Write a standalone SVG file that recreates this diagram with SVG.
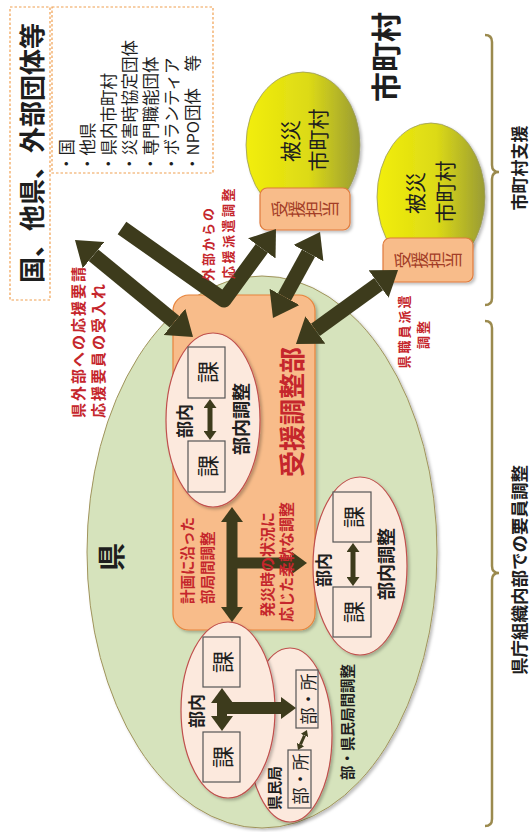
<svg xmlns="http://www.w3.org/2000/svg" width="531" height="832" viewBox="0 0 531 832">
<defs>
<linearGradient id="yg" x1="0" y1="0" x2="1" y2="0">
<stop offset="0" stop-color="#f2ee0a"/><stop offset="0.55" stop-color="#dcda16"/><stop offset="1" stop-color="#999b34"/>
</linearGradient>
<filter id="sh" x="-10%" y="-10%" width="130%" height="130%">
<feDropShadow dx="2" dy="2" stdDeviation="1.5" flood-color="#000" flood-opacity="0.25"/>
</filter>
<marker id="hL" markerUnits="userSpaceOnUse" markerWidth="24" markerHeight="34" viewBox="0 0 24 34" refX="0" refY="17" orient="auto-start-reverse"><path d="M0,0 L24,17 L0,34z" fill="#3d3b1c"/></marker>
<marker id="hM" markerUnits="userSpaceOnUse" markerWidth="15" markerHeight="22" viewBox="0 0 15 22" refX="0" refY="11" orient="auto-start-reverse"><path d="M0,0 L15,11 L0,22z" fill="#3d3b1c"/></marker>
<marker id="hS" markerUnits="userSpaceOnUse" markerWidth="9" markerHeight="13" viewBox="0 0 9 13" refX="0" refY="6.5" orient="auto-start-reverse"><path d="M0,0 L9,6.5 L0,13z" fill="#3d3b1c"/></marker>
<marker id="hT" markerUnits="userSpaceOnUse" markerWidth="6" markerHeight="8" viewBox="0 0 6 8" refX="0" refY="4" orient="auto-start-reverse"><path d="M0,0 L6,4 L0,8z" fill="#3d3b1c"/></marker>
</defs>
<style>
.t{font-family:"Noto Sans CJK JP","Noto Sans",sans-serif;text-anchor:middle;dominant-baseline:central;fill:#1e1e1e}
.s{text-anchor:start}
.b{font-weight:bold}
.v{writing-mode:vertical-rl}
.red{fill:#c5262c}
.jt{fill:#a33e27}
.dash{fill:none;stroke:#f0a050;stroke-width:1.2;stroke-dasharray:2.5 2}
.brace{fill:none;stroke:#9b8a4e;stroke-width:2.5}
.wel{fill:#fce9dd;stroke:#c0504d;stroke-width:1.2;filter:url(#sh)}
.box{fill:#fce9dd;stroke:#555;stroke-width:1.2}
.yel{fill:url(#yg);stroke:#9a9a60;stroke-width:0.8;filter:url(#sh)}
.jb{fill:#f8bc8a;stroke:#e07b3c;stroke-width:1.2;filter:url(#sh)}
.arr{fill:none;stroke:#3d3b1c;stroke-linecap:butt}
</style>

<g id="external-title">
<rect class="dash" x="10" y="7" width="40" height="293"/>
<text class="t b" font-size="26" transform="translate(30,153) rotate(-90)">国、他県、外部団体等</text>
</g>

<g id="external-list">
<rect class="dash" x="52" y="7" width="161" height="166"/>
<g font-size="16.5">
<text class="t s" transform="translate(66,172) rotate(-90)">・国</text>
<text class="t s" transform="translate(87,172) rotate(-90)">・他県</text>
<text class="t s" transform="translate(108,172) rotate(-90)">・県内市町村</text>
<text class="t s" transform="translate(129,172) rotate(-90)">・災害時協定団体</text>
<text class="t s" transform="translate(150,172) rotate(-90)">・専門職能団体</text>
<text class="t s" transform="translate(171,172) rotate(-90)">・ボランティア</text>
<text class="t s" transform="translate(192,172) rotate(-90)">・NPO団体　等</text>
</g>
</g>

<g id="shichoson-title">
<text class="t b" font-size="30" transform="translate(384,57) rotate(-90)">市町村</text>
</g>

<g id="braces">
<path class="brace" d="M485 35 Q492 35 492 42 L492 165 Q492 172 499 172 Q492 172 492 179 L492 298 Q492 305 485 305"/>
<text class="t b" font-size="17" transform="translate(518,168) rotate(-90)">市町村支援</text>
<path class="brace" d="M485 321 Q492 321 492 328 L492 566 Q492 573 499 573 Q492 573 492 580 L492 819 Q492 826 485 826"/>
<text class="t b" font-size="17.5" transform="translate(518,570) rotate(-90)">県庁組織内部での要員調整</text>
</g>

<g id="ken">
<ellipse cx="262" cy="552" rx="175" ry="276" fill="#d6e3bc" stroke="#a0945c" stroke-width="1" filter="url(#sh)"/>
<text class="t b" font-size="28" transform="translate(110,557) rotate(-90)">県</text>
</g>

<g id="juen-choseibu">
<rect x="173" y="295" width="142" height="335" rx="16" fill="#f8bc8a" stroke="#e8843c" stroke-width="1.2" filter="url(#sh)"/>
<text class="t b red" font-size="26" transform="translate(290,412) rotate(-90)">受援調整部</text>
</g>

<g id="bunai-1">
<ellipse class="wel" cx="213" cy="420" rx="47" ry="87"/>
<rect class="box" x="188" y="347" width="37" height="51"/>
<rect class="box" x="188" y="441" width="37" height="51"/>
<text class="t" font-size="22" transform="translate(206,372) rotate(-90)">課</text>
<text class="t" font-size="22" transform="translate(206,466) rotate(-90)">課</text>
<text class="t b" font-size="17" transform="translate(183,421) rotate(-90)">部内</text>
<text class="t b" font-size="18" transform="translate(240,419) rotate(-90)">部内調整</text>
</g>

<g id="bunai-2">
<ellipse class="wel" cx="360" cy="566" rx="47" ry="89"/>
<rect class="box" x="333" y="492" width="38" height="50"/>
<rect class="box" x="333" y="587" width="38" height="50"/>
<text class="t" font-size="22" transform="translate(352,517) rotate(-90)">課</text>
<text class="t" font-size="22" transform="translate(352,612) rotate(-90)">課</text>
<text class="t b" font-size="17" transform="translate(322,570) rotate(-90)">部内</text>
<text class="t b" font-size="18" transform="translate(385,564) rotate(-90)">部内調整</text>
</g>

<g id="kenminkyoku">
<ellipse class="wel" cx="290" cy="735" rx="42" ry="87"/>
<rect class="box" x="296" y="670" width="22" height="58"/>
<rect class="box" x="288" y="750" width="23" height="58"/>
<text class="t" font-size="17" transform="translate(307,699) rotate(-90)">部・所</text>
<text class="t" font-size="17" transform="translate(299.5,779) rotate(-90)">部・所</text>
<text class="t b" font-size="14.5" transform="translate(273,788) rotate(-90)">県民局</text>
</g>

<g id="bunai-3">
<ellipse class="wel" cx="228" cy="710" rx="47" ry="88"/>
<rect class="box" x="203" y="637" width="37" height="50"/>
<rect class="box" x="203" y="732" width="37" height="50"/>
<text class="t" font-size="22" transform="translate(221,662) rotate(-90)">課</text>
<text class="t" font-size="22" transform="translate(221,757) rotate(-90)">課</text>
<text class="t b" font-size="17" transform="translate(195,711) rotate(-90)">部内</text>
</g>

<g id="hisai-1">
<ellipse class="yel" cx="303" cy="145" rx="57" ry="73"/>
<text class="t" font-size="21" transform="translate(289,141) rotate(-90)">被災</text>
<text class="t" font-size="21" transform="translate(317,140) rotate(-90)">市町村</text>
<rect class="jb" x="260" y="188" width="90" height="42" rx="7"/>
<text class="t v jt" font-size="17" transform="translate(305,209) rotate(-90)">受援担当</text>
</g>

<g id="hisai-2">
<ellipse class="yel" cx="431" cy="197" rx="54" ry="74"/>
<text class="t" font-size="21" transform="translate(414,193) rotate(-90)">被災</text>
<text class="t" font-size="21" transform="translate(444,192) rotate(-90)">市町村</text>
<rect class="jb" x="383" y="238" width="90" height="44" rx="7"/>
<text class="t v jt" font-size="17" transform="translate(428,260) rotate(-90)">受援担当</text>
</g>

<g id="connectors">
<line class="arr" stroke-width="15" x1="93.5" y1="255.2" x2="174.5" y2="321.8" marker-start="url(#hL)" marker-end="url(#hL)"/>
<polyline class="arr" stroke-width="15" stroke-linejoin="round" points="122,228 224,300 261.8,248.4" marker-end="url(#hL)"/>
<line class="arr" stroke-width="15" x1="284.5" y1="296.9" x2="308.5" y2="253.1" marker-start="url(#hL)" marker-end="url(#hL)"/>
<line class="arr" stroke-width="15" x1="315.4" y1="329.9" x2="378.6" y2="284.1" marker-start="url(#hL)" marker-end="url(#hL)"/>
<line class="arr" stroke-width="11" x1="232" y1="522" x2="232" y2="607" marker-start="url(#hM)" marker-end="url(#hM)"/>
<line class="arr" stroke-width="11" x1="232" y1="563" x2="292" y2="563" marker-end="url(#hM)"/>
<line class="arr" stroke-width="5" x1="210" y1="408" x2="210" y2="431" marker-start="url(#hS)" marker-end="url(#hS)"/>
<line class="arr" stroke-width="5" x1="353" y1="552" x2="353" y2="577" marker-start="url(#hS)" marker-end="url(#hS)"/>
<line class="arr" stroke-width="10" x1="222" y1="703" x2="222" y2="716" marker-start="url(#hM)" marker-end="url(#hM)"/>
<line class="arr" stroke-width="12" x1="222" y1="708" x2="281" y2="708" marker-end="url(#hM)"/>
<line class="arr" stroke-width="3" x1="304.5" y1="735.5" x2="300.5" y2="744.5" marker-start="url(#hT)" marker-end="url(#hT)"/>
</g>

<g id="labels">
<text class="t s b red" font-size="15" letter-spacing="2" transform="translate(77,418) rotate(-90)">県外部への応援要請</text>
<text class="t s b red" font-size="15" letter-spacing="2" transform="translate(97,418) rotate(-90)">応援要員の受入れ</text>
<text class="t s b red" font-size="13" letter-spacing="2" transform="translate(207,281) rotate(-90)">外部からの</text>
<text class="t s b red" font-size="13" letter-spacing="2.5" transform="translate(227,279) rotate(-90)">応援派遣調整</text>
<text class="t b red" font-size="13" letter-spacing="2" transform="translate(403,331) rotate(-90)">県職員派遣</text>
<text class="t b red" font-size="13" letter-spacing="2" transform="translate(422,334) rotate(-90)">調整</text>
<text class="t s b red" font-size="14.5" transform="translate(186,604) rotate(-90)">計画に沿った</text>
<text class="t s b red" font-size="14.5" transform="translate(206,604) rotate(-90)">部局間調整</text>
<text class="t s b red" font-size="15" transform="translate(266,617) rotate(-90)">発災時の状況に</text>
<text class="t s b red" font-size="15" transform="translate(285,622) rotate(-90)">応じた柔軟な調整</text>
<text class="t b" font-size="14.5" transform="translate(346,722) rotate(-90)">部・県民局間調整</text>
</g>
</svg>
